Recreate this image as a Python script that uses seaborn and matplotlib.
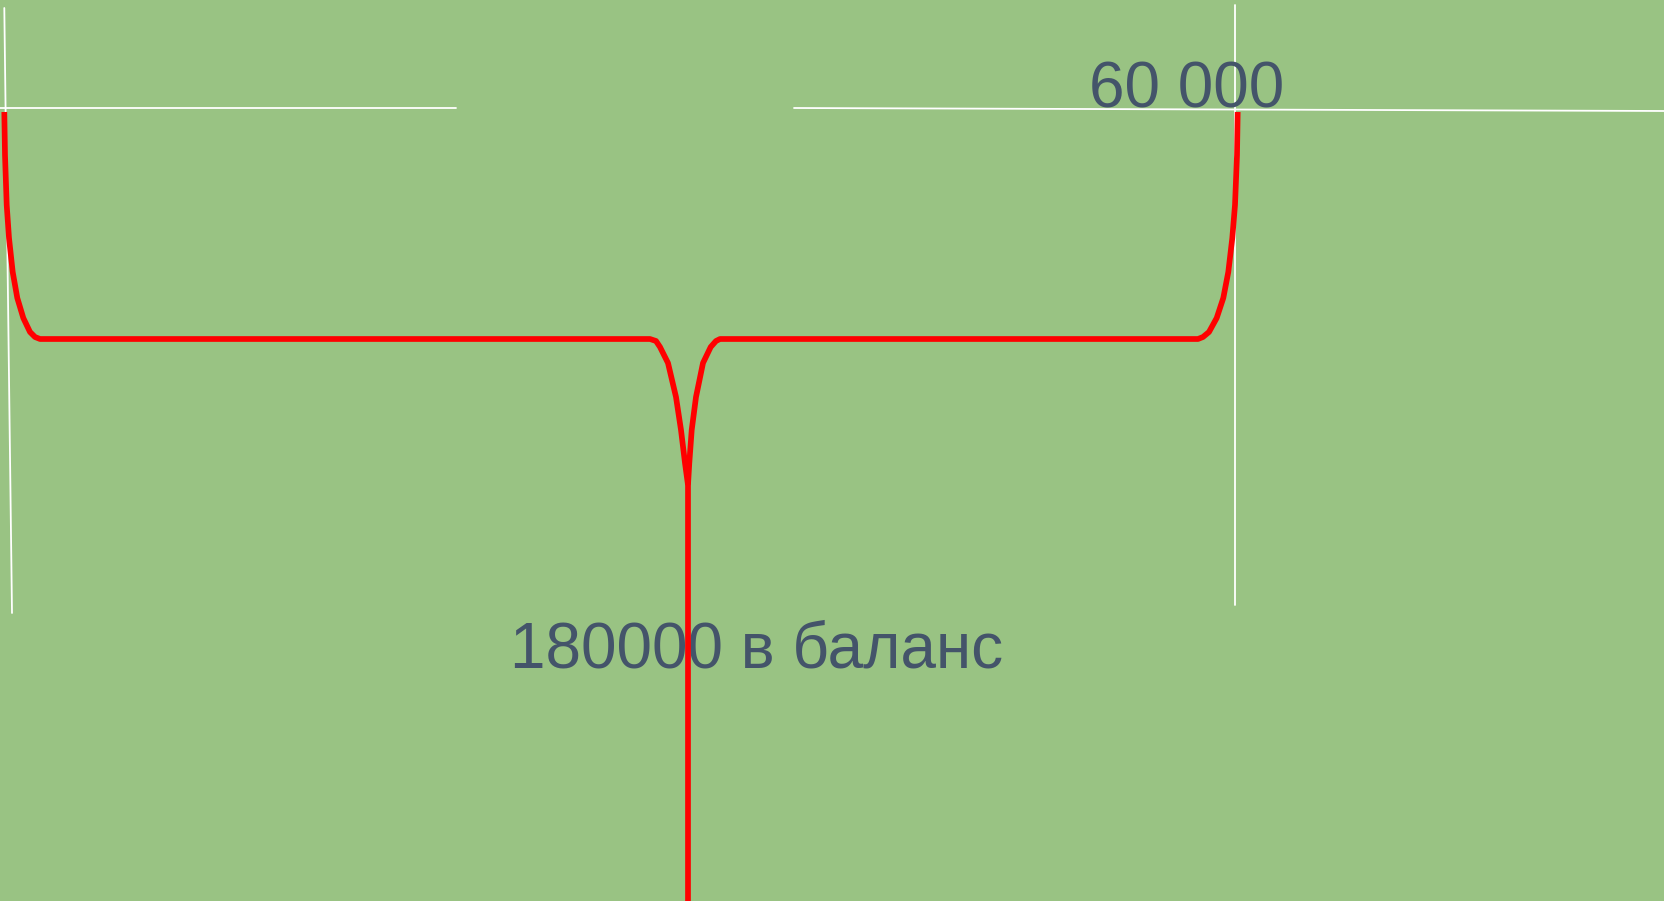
import pandas as pd
import numpy as np
import seaborn as sns
import matplotlib.pyplot as plt

# brace shape (pixel coordinates, y downwards)
left_x = [4.3, 5, 6.7, 9, 12.7, 17.3, 23.3, 30, 35, 40, 650, 656, 660, 668, 676, 681, 685, 688]
left_y = [112, 155, 205, 238, 272, 298, 318, 332, 337, 339, 339, 341, 347, 363, 397, 430, 463, 485]
right_x = [688, 689.3, 691.7, 696, 703, 710.7, 716, 720, 1198, 1203, 1209, 1216.7, 1223.3, 1228.3, 1232.3, 1235, 1237, 1237.7]
right_y = [485, 463, 430, 397, 363, 347, 341, 339, 339, 337, 332, 318, 298, 272, 238, 205, 155, 112]
stem_x = [688, 688]
stem_y = [485, 901]

# thin white guide lines
guide_x = [[4.3, 12], [0, 456], [794, 1665], [1235, 1235]]
guide_y = [[8, 613], [108, 108], [108, 111], [5, 605]]

labels = ['60 000', '180000 в баланс']
label_x = [1089, 510]
label_y = [107, 668]

brace = pd.DataFrame({
    'x': left_x + right_x + stem_x,
    'y': left_y + right_y + stem_y,
    'part': ['left'] * len(left_x) + ['right'] * len(right_x) + ['stem'] * len(stem_x),
})
guides = pd.DataFrame({
    'x': sum(guide_x, []),
    'y': sum(guide_y, []),
    'part': [i for i in range(len(guide_x)) for _ in range(2)],
})

sns.set_style('white')
plt.rcParams['font.family'] = ['Liberation Sans', 'DejaVu Sans']

fig = plt.figure(figsize=(16.65, 9.01), dpi=100)
fig.patch.set_facecolor('#99c383')
ax = fig.add_axes([0, 0, 1, 1])
ax.set_facecolor('#99c383')

sns.lineplot(data=guides, x='x', y='y', units='part', estimator=None, sort=False,
             color='white', linewidth=1.3, ax=ax, zorder=1)

for t, x, y in zip(labels, label_x, label_y):
    ax.text(x, y, t, fontsize=46, color='#44546a', va='baseline', ha='left', zorder=2)

sns.lineplot(data=brace, x='x', y='y', units='part', estimator=None, sort=False,
             color='red', linewidth=4.1, ax=ax, zorder=3,
             solid_capstyle='butt', solid_joinstyle='round')

ax.set_xlim(0, 1665)
ax.set_ylim(901, 0)
ax.axis('off')

fig.savefig('out.png', dpi=100, facecolor=fig.get_facecolor())
